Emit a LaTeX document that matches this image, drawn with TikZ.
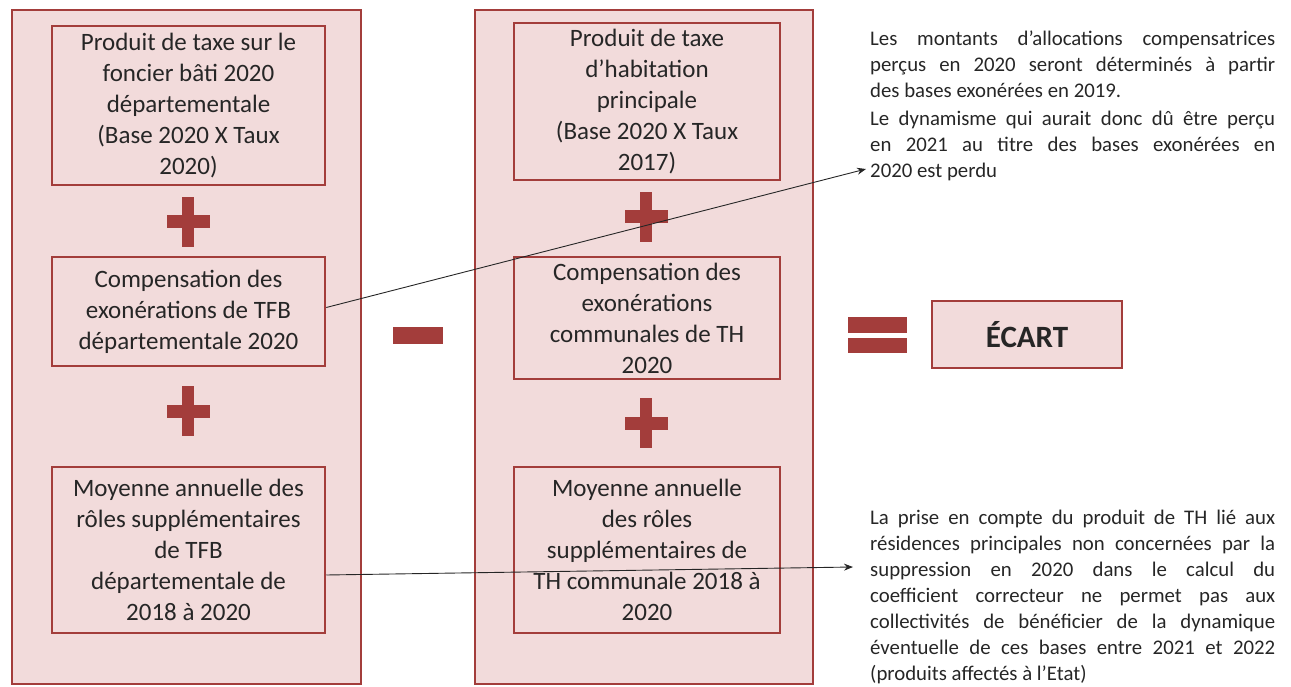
\documentclass[tikz,border=0pt]{standalone}
\usepackage{fontspec}
\setmainfont{Carlito}
\usetikzlibrary{arrows.meta}
\definecolor{rose}{rgb}{0.95, 0.86, 0.86}
\definecolor{brique}{rgb}{0.64, 0.24, 0.23}
\definecolor{encre}{rgb}{0.15, 0.15, 0.15}

\begin{document}
\begin{tikzpicture}[x=1pt,y=-1pt,
        cadre/.style={draw=brique,line width=2.5pt,fill=rose},
        poste/.style={draw=brique,line width=2.5pt,fill=rose,align=center,text=encre,
            font=\fontsize{25}{31}\selectfont,inner sep=0pt},
        signe/.style={fill=brique},
        note/.style={text width=405pt,align=justify,text=encre,
            font=\fontsize{20.8}{26}\selectfont,inner sep=0pt,anchor=north west},
        fleche/.style={-{Stealth[length=9pt,width=7pt]},line width=0.9pt,black!85}]
    \useasboundingbox (0,0) rectangle (1291,687);

    % les deux colonnes
    \draw[cadre] (12,10) rectangle (361,684);
    \draw[cadre] (475,10) rectangle (813,684);

    \node[poste,minimum width=273pt,minimum height=159pt] (lb1) at (188.5,105.5)
        {Produit de taxe sur le\\foncier bâti 2020\\départementale\\(Base 2020 X Taux\\2020)};
    \node[poste,minimum width=273pt,minimum height=109pt] (lb2) at (188.5,311.5)
        {Compensation des\\exonérations de TFB\\départementale 2020};
    \node[poste,minimum width=273pt,minimum height=166pt] (lb3) at (188.5,550)
        {Moyenne annuelle des\\rôles supplémentaires\\de TFB\\départementale de\\2018 à 2020};

    \node[poste,minimum width=266pt,minimum height=157pt] (mb1) at (647,101.5)
        {Produit de taxe\\d’habitation\\principale\\(Base 2020 X Taux\\2017)};
    \node[poste,minimum width=266pt,minimum height=122pt] (mb2) at (647,318)
        {Compensation des\\exonérations\\communales de TH\\2020};
    \node[poste,minimum width=266pt,minimum height=166pt] (mb3) at (647,550)
        {Moyenne annuelle\\des rôles\\supplémentaires de\\TH communale 2018 à\\2020};

    % signes
    \foreach \px/\py in {188/222,188/411,646/217,646/423}{
        \fill[signe] (\px-21.5,\py-6.5) rectangle (\px+21.5,\py+6.5);
        \fill[signe] (\px-6,\py-25) rectangle (\px+6,\py+25);
    }
    \fill[signe] (393,327) rectangle (443,344);
    \fill[signe] (848,317) rectangle (907,333);
    \fill[signe] (848,338) rectangle (907,353);

    \node[poste,minimum width=190pt,minimum height=67pt,font=\fontsize{31}{34}\selectfont\bfseries] (ecart) at (1027,334.5) {ÉCART};

    \node[note] (note1) at (870,31)
        {Les montants d'allocations compensatrices\linebreak perçus en 2020 seront déterminés à partir\linebreak des bases exonérées en 2019.\par\vspace{2pt}\noindent
        Le dynamisme qui aurait donc dû être perçu\linebreak en 2021 au titre des bases exonérées en\linebreak 2020 est perdu};
    \node[note] (note2) at (870,510)
        {La prise en compte du produit de TH lié aux\linebreak résidences principales non concernées par la\linebreak suppression en 2020 dans le calcul du\linebreak coefficient correcteur ne permet pas aux\linebreak collectivités de bénéficier de la dynamique\linebreak éventuelle de ces bases entre 2021 et 2022\linebreak (produits affectés à l’Etat)};

    \coordinate (bout1) at (866,169);
    \coordinate (bout2) at (853,567);
    \draw[fleche] ([yshift=4pt]lb2.east) -- (bout1);
    \draw[fleche] ([yshift=-25pt]lb3.east) -- (bout2);
\end{tikzpicture}
\end{document}
